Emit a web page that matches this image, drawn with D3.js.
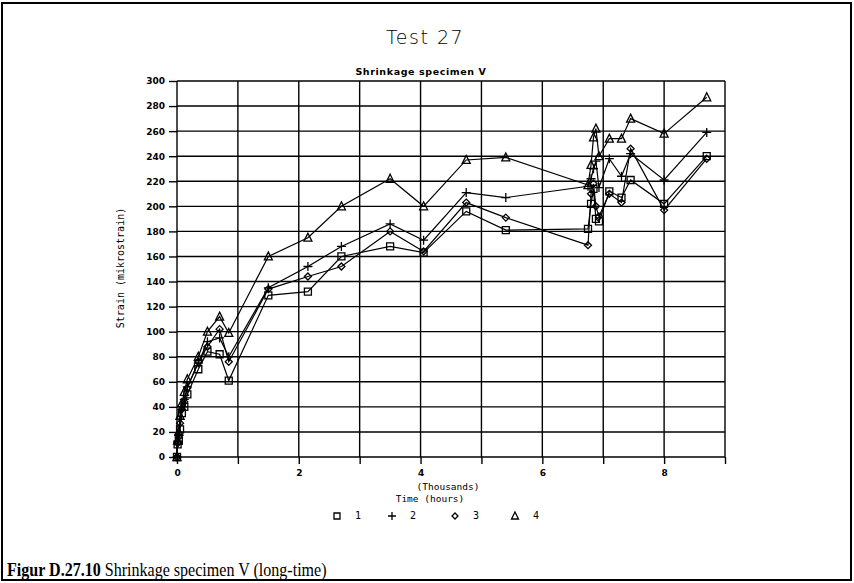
<!DOCTYPE html>
<html lang="en">
<head>
<meta charset="UTF-8">
<title>Test 27 - Shrinkage specimen V</title>
<script src="https://d3js.org/d3.v7.min.js"></script>
<style>
    body { margin: 0; background: #fff; }
    svg { display: block; }
    .tick text { font-family: "DejaVu Sans", sans-serif; font-size: 9px; font-weight: bold; fill: #000; }
    .tick line { stroke: #000; stroke-width: 1.4; }
    .domain { display: none; }
    .lbl { font-family: "DejaVu Sans Mono", monospace; font-size: 10px; fill: #000; }
</style>
</head>
<body>
<svg width="854" height="583"></svg>
<script>
    // time in thousands of hours
    const times = [0, 0.01, 0.03, 0.05, 0.08, 0.12, 0.17, 0.35, 0.5, 0.7, 0.85, 1.5, 2.15, 2.7, 3.5, 4.05, 4.75, 5.4,
        6.75, 6.8, 6.84, 6.88, 6.93, 7.1, 7.3, 7.45, 8.0, 8.7];
    const series1 = [0, 10, 13, 22, 35, 40, 50, 70, 84, 82, 61, 129, 132, 160, 168, 163, 196, 181,
        182, 202, 214, 190, 188, 212, 207, 221, 202, 240];
    const series2 = [0, 12, 18, 30, 40, 46, 56, 75, 92, 95, 80, 135, 152, 168, 186, 173, 211, 207,
        216, 222, 230, 236, 215, 238, 224, 242, 221, 259];
    const series3 = [0, 11, 16, 27, 38, 44, 55, 76, 88, 102, 76, 134, 144, 152, 180, 164, 203, 191,
        169, 210, 218, 200, 192, 210, 203, 246, 197, 238];
    const series4 = [0, 13, 20, 33, 43, 52, 62, 80, 100, 112, 99, 160, 175, 200, 222, 200, 237, 239,
        217, 233, 255, 262, 240, 254, 254, 270, 258, 287];
    const seriesNames = ["1", "2", "3", "4"];
    const xTicks = [0, 1, 2, 3, 4, 5, 6, 7, 8, 9];
    const yTicks = d3.range(0, 301, 20);

    const allSeries = [series1, series2, series3, series4];
    const shapes = ["square", "plus", "diamond", "triangle"];

    const svg = d3.select("svg");
    svg.append("rect").attr("width", 854).attr("height", 583).attr("fill", "#fff");
    // outer frame
    svg.append("rect")
        .attr("x", 2).attr("y", 3).attr("width", 849).attr("height", 577)
        .attr("fill", "none").attr("stroke", "#000").attr("stroke-width", 2);

    const x = d3.scaleLinear().domain([0, 9]).range([177, 725]);
    const y = d3.scaleLinear().domain([0, 300]).range([457, 81]);

    // grid
    svg.append("g").selectAll("line")
        .data(yTicks)
        .join("line")
        .attr("x1", x(0)).attr("x2", x(9))
        .attr("y1", d => y(d)).attr("y2", d => y(d))
        .attr("stroke", "#000").attr("stroke-width", 1.4);
    svg.append("g").selectAll("line")
        .data(xTicks)
        .join("line")
        .attr("x1", d => x(d)).attr("x2", d => x(d))
        .attr("y1", y(0)).attr("y2", y(300))
        .attr("stroke", "#000").attr("stroke-width", 1.4);

    svg.append("g")
        .attr("transform", `translate(0,${y(0)})`)
        .call(d3.axisBottom(x).tickValues(xTicks).tickSize(7).tickPadding(6)
            .tickFormat(d => (d % 2 === 0 && d < 9) ? d : ""));

    svg.append("g")
        .attr("transform", `translate(${x(0)},0)`)
        .call(d3.axisLeft(y).tickValues(yTicks).tickSize(8).tickPadding(4));

    // titles
    svg.append("text")
        .attr("x", 425).attr("y", 44)
        .attr("text-anchor", "middle")
        .style("font-family", "'DejaVu Sans', sans-serif")
        .style("font-size", "19px").style("font-weight", 300)
        .style("letter-spacing", "1.5px")
        .text("Test 27");
    svg.append("text")
        .attr("x", 421).attr("y", 75)
        .attr("text-anchor", "middle")
        .style("font-family", "'DejaVu Sans', sans-serif")
        .style("font-size", "9.5px").style("font-weight", "bold")
        .style("letter-spacing", "0.6px")
        .text("Shrinkage specimen V");

    svg.append("text")
        .attr("class", "lbl")
        .attr("transform", `translate(124,268) rotate(-90)`)
        .attr("text-anchor", "middle")
        .text("Strain (mikrostrain)");
    svg.append("text")
        .attr("class", "lbl")
        .attr("x", 448).attr("y", 490)
        .attr("text-anchor", "middle")
        .style("font-size", "9.5px")
        .text("(Thousands)");
    svg.append("text")
        .attr("class", "lbl")
        .attr("x", 430).attr("y", 502)
        .attr("text-anchor", "middle")
        .style("font-size", "9.5px")
        .text("Time (hours)");

    // marker paths
    function marker(shape, s) {
        if (shape === "square") return `M${-s},${-s}H${s}V${s}H${-s}Z`;
        if (shape === "plus") return `M${-s - 1},0H${s + 1}M0,${-s - 1}V${s + 1}`;
        if (shape === "diamond") return `M0,${-s}L${s},0L0,${s}L${-s},0Z`;
        return `M0,${-s - 1}L${s + 0.5},${s}L${-s - 0.5},${s}Z`;
    }

    const line = d3.line()
        .x((d, i) => x(times[i]))
        .y(d => y(d));

    allSeries.forEach((vals, k) => {
        const g = svg.append("g");
        g.append("path")
            .datum(vals)
            .attr("d", line)
            .attr("fill", "none")
            .attr("stroke", "#000")
            .attr("stroke-width", 1.2);
        g.selectAll("path.m")
            .data(vals)
            .join("path")
            .attr("class", "m")
            .attr("transform", (d, i) => `translate(${x(times[i])},${y(d)})`)
            .attr("d", marker(shapes[k], 3.5))
            .attr("fill", "none")
            .attr("stroke", "#000")
            .attr("stroke-width", 1.3);
    });

    // legend
    const legX = [337, 392, 455, 515];
    seriesNames.forEach((name, k) => {
        svg.append("path")
            .attr("transform", `translate(${legX[k]},516)`)
            .attr("d", marker(shapes[k], 3))
            .attr("fill", "none")
            .attr("stroke", "#000")
            .attr("stroke-width", 1.3);
        svg.append("text")
            .attr("class", "lbl")
            .attr("x", legX[k] + 18).attr("y", 519)
            .text(name);
    });

    // caption (scan looks horizontally compressed)
    const cap = svg.append("text")
        .attr("transform", "translate(7,576) scale(0.845,1)")
        .style("font-family", "'Liberation Serif', serif")
        .style("font-size", "19px");
    cap.append("tspan").style("font-weight", "bold").text("Figur D.27.10");
    cap.append("tspan").text(" Shrinkage specimen V (long-time)");
</script>
</body>
</html>
